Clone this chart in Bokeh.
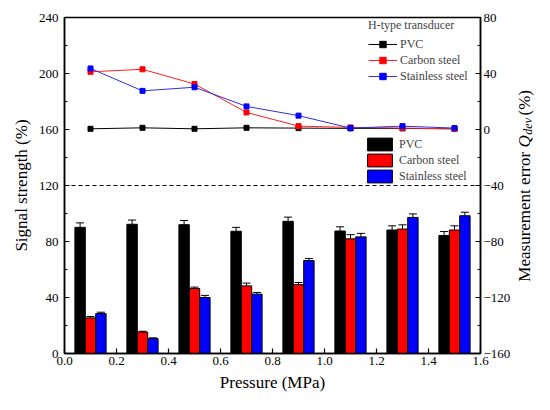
from bokeh.plotting import figure
from bokeh.layouts import row
from bokeh.models import (Range1d, LinearAxis, FixedTicker, Span, Legend, LegendItem,
                          Whisker, ColumnDataSource, Label, TeeHead, PrintfTickFormatter)
from bokeh.transform import dodge
from bokeh.embed import file_html
from bokeh.resources import INLINE

# ---------------- data ----------------
pressure = [0.1, 0.3, 0.5, 0.7, 0.9, 1.1, 1.3, 1.5]

# signal strength (%) bars
sig_pvc = [90.1, 92.3, 92.0, 87.3, 94.4, 87.5, 88.2, 84.3]
sig_carbon = [25.4, 15.3, 46.4, 48.3, 49.2, 81.9, 88.9, 88.2]
sig_stainless = [28.5, 10.6, 40.0, 42.4, 66.4, 83.3, 97.2, 98.4]

err_pvc = [3.2, 3.0, 3.0, 2.8, 3.0, 3.0, 3.0, 2.8]
err_carbon = [1.0, 0.6, 1.0, 2.0, 1.5, 3.0, 3.0, 3.0]
err_stainless = [1.0, 0.6, 1.5, 1.2, 1.5, 2.5, 2.5, 2.5]

# measurement error Q_dev (%) lines
q_pvc = [0.5, 1.2, 0.5, 1.2, 1.0, 0.8, 0.8, 0.5]
q_carbon = [41.2, 43.0, 32.5, 12.2, 2.4, 1.5, 1.0, 0.5]
q_stainless = [43.6, 27.6, 30.2, 16.5, 9.9, 1.0, 2.4, 1.0]

left_ticks = [0, 40, 80, 120, 160, 200, 240]
left_minor = [20, 60, 100, 140, 180, 220]
right_ticks = [-160, -120, -80, -40, 0, 40, 80]
right_minor = [-140, -100, -60, -20, 20, 60]
x_ticks = [0.0, 0.2, 0.4, 0.6, 0.8, 1.0, 1.2, 1.4, 1.6]
threshold = 120

FONT = "Liberation Serif"
H = 394
BORDER_TOP = 17
BORDER_BOTTOM = 40

src = ColumnDataSource(dict(
    x=pressure,
    pvc=sig_pvc, carbon=sig_carbon, stainless=sig_stainless,
    pvc_hi=[a + b for a, b in zip(sig_pvc, err_pvc)],
    carbon_hi=[a + b for a, b in zip(sig_carbon, err_carbon)],
    stainless_hi=[a + b for a, b in zip(sig_stainless, err_stainless)],
    q_pvc=q_pvc, q_carbon=q_carbon, q_stainless=q_stainless,
))

p = figure(width=513, height=H, output_backend="svg", toolbar_location=None,
           x_range=Range1d(0, 1.6), y_range=Range1d(0, 240),
           min_border_left=64, min_border_right=27,
           min_border_top=BORDER_TOP, min_border_bottom=BORDER_BOTTOM)
p.extra_y_ranges = {"err": Range1d(-160, 80)}
p.grid.visible = False
p.outline_line_color = "black"
p.outline_line_width = 1.5
p.background_fill_color = "white"

# ---------------- bars ----------------
bw = 0.04
b1 = p.vbar(x=dodge("x", -bw, range=p.x_range), top="pvc", width=bw, source=src,
            fill_color="black", line_color="black", line_width=1)
b2 = p.vbar(x=dodge("x", 0, range=p.x_range), top="carbon", width=bw, source=src,
            fill_color="#ff0000", line_color="black", line_width=1)
b3 = p.vbar(x=dodge("x", bw, range=p.x_range), top="stainless", width=bw, source=src,
            fill_color="#0000ff", line_color="black", line_width=1)

for off, lo, hi in [(-bw, "pvc", "pvc_hi"), (0, "carbon", "carbon_hi"), (bw, "stainless", "stainless_hi")]:
    w = Whisker(base=dodge("x", off, range=p.x_range), lower=lo, upper=hi, source=src,
                line_color="black", line_width=1,
                upper_head=TeeHead(size=8, line_color="black", line_width=1),
                lower_head=None)
    p.add_layout(w)

# ---------------- dashed threshold ----------------
p.add_layout(Span(location=threshold, dimension="width", line_color="black",
                  line_dash="4 3", line_width=1))

# ---------------- lines ----------------
l1 = p.line("x", "q_pvc", source=src, y_range_name="err", line_color="black", line_width=1)
s1 = p.scatter("x", "q_pvc", source=src, y_range_name="err", marker="square", size=5,
               fill_color="black", line_color="black")
l2 = p.line("x", "q_carbon", source=src, y_range_name="err", line_color="#ff2020", line_width=1)
s2 = p.scatter("x", "q_carbon", source=src, y_range_name="err", marker="square", size=5,
               fill_color="#ff0000", line_color="#ff0000")
l3 = p.line("x", "q_stainless", source=src, y_range_name="err", line_color="#3030dd", line_width=1)
s3 = p.scatter("x", "q_stainless", source=src, y_range_name="err", marker="square", size=5,
               fill_color="#0000ff", line_color="#0000ff")

# ---------------- axes ----------------
def style_axis(ax):
    ax.axis_line_width = 1.5
    ax.axis_line_color = "black"
    ax.major_tick_in = 5
    ax.major_tick_out = 0
    ax.minor_tick_in = 3
    ax.minor_tick_out = 0
    ax.major_tick_line_width = 1.2
    ax.minor_tick_line_width = 1.2
    ax.major_label_text_font = FONT
    ax.major_label_text_font_size = "13px"
    ax.major_label_text_color = "black"
    ax.axis_label_text_font = FONT
    ax.axis_label_text_font_size = "17px"
    ax.axis_label_text_font_style = "normal"
    ax.axis_label_text_color = "black"

xa = p.xaxis[0]
xa.ticker = FixedTicker(ticks=x_ticks)
xa.formatter = PrintfTickFormatter(format="%.1f")
xa.axis_label = "Pressure (MPa)"
style_axis(xa)
xa.major_label_standoff = 3
xa.axis_label_standoff = 5

ya = p.yaxis[0]
ya.ticker = FixedTicker(ticks=left_ticks, minor_ticks=left_minor)
ya.axis_label = "Signal strength (%)"
style_axis(ya)
ya.major_label_standoff = 6
ya.axis_label_standoff = 5

ra = LinearAxis(y_range_name="err", ticker=FixedTicker(ticks=right_ticks, minor_ticks=right_minor))
style_axis(ra)
ra.major_label_standoff = 3
p.add_layout(ra, "right")

# ---------------- legends ----------------
leg1 = Legend(items=[LegendItem(label="PVC", renderers=[l1, s1]),
                     LegendItem(label="Carbon steel", renderers=[l2, s2]),
                     LegendItem(label="Stainless steel", renderers=[l3, s3])],
              location=(304, 269), title="H-type transducer",
              title_text_font=FONT, title_text_font_size="12px", title_text_font_style="normal",
              title_standoff=3,
              label_text_font=FONT, label_text_font_size="12px",
              glyph_width=29, glyph_height=16, label_height=16, label_standoff=3,
              spacing=0, padding=0, margin=0,
              background_fill_alpha=0, border_line_alpha=0)
leg2 = Legend(items=[LegendItem(label="PVC", renderers=[b1]),
                     LegendItem(label="Carbon steel", renderers=[b2]),
                     LegendItem(label="Stainless steel", renderers=[b3])],
              location=(300, 169),
              label_text_font=FONT, label_text_font_size="12px",
              glyph_width=31, glyph_height=16, label_height=16, label_standoff=4,
              spacing=0, padding=0, margin=0,
              background_fill_alpha=0, border_line_alpha=0)
p.add_layout(leg1, "center")
p.add_layout(leg2, "center")

# ---------------- right axis title (rich text) in a narrow companion canvas ----------------
# shares the main y range and frame geometry, so label positions follow the main frame
W2 = 21
p2 = figure(width=W2, height=H, output_backend="svg", toolbar_location=None,
            x_range=Range1d(0, W2), y_range=p.y_range,
            x_axis_location=None, y_axis_location=None,
            min_border_left=0, min_border_right=0,
            min_border_top=BORDER_TOP, min_border_bottom=BORDER_BOTTOM)
p2.title.visible = False
p2.grid.visible = False
p2.outline_line_color = None

lab_kw = dict(angle=90, angle_units="deg", text_font=FONT, text_color="black",
              text_baseline="middle", text_align="left")
p2.add_layout(Label(x=10.5, y=51.3, text="Measurement error", text_font_size="17px", **lab_kw))
p2.add_layout(Label(x=10.5, y=147.1, text="Q", text_font_size="17px", text_font_style="italic", **lab_kw))
p2.add_layout(Label(x=14.0, y=156.3, text="dev", text_font_size="12px", text_font_style="italic", **lab_kw))
p2.add_layout(Label(x=10.5, y=170.0, text="(%)", text_font_size="17px", **lab_kw))

layout = row(p, p2)
open("out.html", "w").write(file_html(layout, INLINE))
